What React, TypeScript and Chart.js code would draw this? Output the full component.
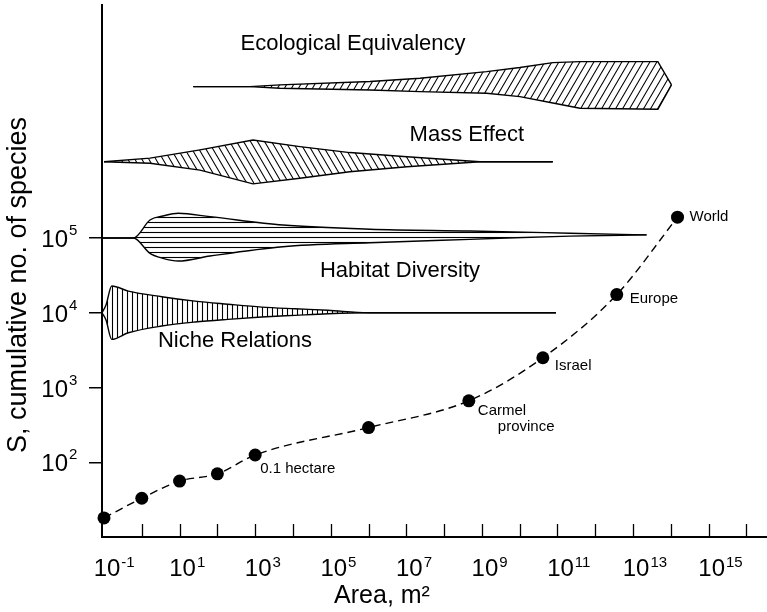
import React, { useEffect, useRef } from 'react';
import { Chart, registerables } from 'chart.js';

Chart.register(...registerables);

const FONT = '"Liberation Sans", Arial, Helvetica, sans-serif';

// ---- axis ranges ----
const X_MIN = 0.0885;
const X_MAX = 3.5e16;
const Y_MIN = 10;
const Y_MAX = 1.31e8;

// ---- ticks ----
const X_TICK_VALUES = [1e0, 1e1, 1e2, 1e3, 1e4, 1e5, 1e6, 1e7, 1e8, 1e9, 1e10, 1e11, 1e12, 1e13, 1e14, 1e15, 1e16];
const X_LABEL_VALUES = [1e-1, 1e1, 1e3, 1e5, 1e7, 1e9, 1e11, 1e13, 1e15];
const X_LABEL_EXPONENTS = ['-1', '1', '3', '5', '7', '9', '11', '13', '15'];
const Y_TICK_VALUES = [1e2, 1e3, 1e4, 1e5];
const Y_LABEL_EXPONENTS = ['2', '3', '4', '5'];

// ---- species–area curve ----
const AREA_M2 = [0.1, 1, 10, 100, 1000, 1e6, 4.5e8, 4.1e10, 3.7e12, 1.5e14];
const SPECIES = [18, 33, 56, 70, 125, 291, 664, 2500, 17500, 190000];
const NOTE_TEXT = ['0.1 hectare', 'Carmel', 'province', 'Israel', 'Europe', 'World'];
const NOTE_POINT = [4, 6, 6, 7, 8, 9];

// ---- Ecological Equivalency outline ----
const EE_X = [23, 728, 4530, 1.09e6, 2.29e7, 1.33e9, 1.01e10, 7.55e10, 3.92e11, 4.53e13, 1.04e14];
const EE_UPPER = [1.06e7, 1.06e7, 1.12e7, 1.24e7, 1.37e7, 1.68e7, 1.91e7, 2.22e7, 2.29e7, 2.29e7, 1.12e7];
const EE_LOWER = [1.06e7, 1.06e7, 1.01e7, 9.57e6, 9.1e6, 8.65e6, 7.8e6, 6.41e6, 5.45e6, 5.28e6, 1.12e7];

// ---- Mass Effect outline ----
const ME_X = [0.1, 1.65, 34.7, 875, 15300, 3.2e5, 1.04e7, 8.9e8, 7.5e10];
const ME_UPPER = [1.05e6, 1.17e6, 1.51e6, 2.05e6, 1.67e6, 1.39e6, 1.22e6, 1.05e6, 1.05e6];
const ME_LOWER = [1.05e6, 1.0e6, 8.1e5, 5.3e5, 6.3e5, 7.7e5, 9.0e5, 1.05e6, 1.05e6];

// ---- Habitat Diversity outline ----
const HD_X = [0.0885, 0.6, 1.65, 3.64, 9.25, 63.7, 5430, 1.09e6, 4.8e8, 2.13e11, 2.28e13];
const HD_UPPER = [1.0e5, 1.0e5, 1.74e5, 1.97e5, 2.14e5, 1.93e5, 1.49e5, 1.31e5, 1.24e5, 1.16e5, 1.1e5];
const HD_LOWER = [1.0e5, 1.0e5, 6.24e4, 5.35e4, 4.92e4, 5.74e4, 7.65e4, 8.65e4, 9.6e4, 1.06e5, 1.1e5];

// ---- Niche Relations outline ----
const NR_X = [0.0885, 0.113, 0.16, 0.44, 3.36, 25.5, 190, 1490, 11300, 84300, 9.8e5, 9.1e10];
const NR_UPPER = [1.0e4, 1.27e4, 2.28e4, 1.95e4, 1.64e4, 1.43e4, 1.3e4, 1.19e4, 1.13e4, 1.08e4, 1.0e4, 1.0e4];
const NR_LOWER = [1.0e4, 7980, 4400, 5400, 6640, 7510, 8160, 8760, 9230, 9700, 1.0e4, 1.0e4];

// ---- shape captions ----
const SHAPE_LABELS = ['Ecological Equivalency', 'Mass Effect', 'Habitat Diversity', 'Niche Relations'];

// layout (positions of captions and notes)
const SHAPE_LABEL_ANCHORS = [
  { x: 3.9e5, y: 4.0e7 },
  { x: 4.0e8, y: 2.43e6 },
  { x: 6.8e6, y: 3.66e4 },
  { x: 292, y: 4160 },
];
const NOTE_OFFSETS = [
  { dx: 5, dy: 14 },
  { dx: 9, dy: 10 },
  { dx: 29, dy: 26 },
  { dx: 12, dy: 8 },
  { dx: 13, dy: 4 },
  { dx: 12, dy: 0 },
];

function hatch(kind: string): CanvasPattern {
  const c = document.createElement('canvas');
  let w = 7;
  let h = 12;
  if (kind === 'h' || kind === 'v') {
    w = 5;
    h = 5;
  }
  c.width = w;
  c.height = h;
  const g = c.getContext('2d') as CanvasRenderingContext2D;
  g.strokeStyle = '#000';
  g.lineWidth = 1.1;
  g.beginPath();
  if (kind === 'fwd') {
    for (let k = -1; k <= 1; k++) {
      g.moveTo(k * w - w, 2 * h);
      g.lineTo(k * w + 2 * w, -h);
    }
  } else if (kind === 'back') {
    for (let k = -1; k <= 1; k++) {
      g.moveTo(k * w - w, -h);
      g.lineTo(k * w + 2 * w, 2 * h);
    }
  } else if (kind === 'h') {
    g.moveTo(0, 2.5);
    g.lineTo(w, 2.5);
  } else {
    g.moveTo(2.5, 0);
    g.lineTo(2.5, h);
  }
  g.stroke();
  return g.createPattern(c, 'repeat') as CanvasPattern;
}

function shape(xs: number[], up: number[], lo: number[], pattern: CanvasPattern, smooth: boolean) {
  const common: any = {
    borderColor: '#000',
    borderWidth: 1.4,
    pointRadius: 0,
    tension: smooth ? 0.4 : 0,
    cubicInterpolationMode: smooth ? 'monotone' : 'default',
  };
  return [
    { ...common, data: xs.map((x, i) => ({ x, y: up[i] })), fill: '+1', backgroundColor: pattern },
    { ...common, data: xs.map((x, i) => ({ x, y: lo[i] })), fill: false },
  ];
}

const annotationPlugin = {
  id: 'annotations',
  afterDraw(chart: any) {
    const { ctx, chartArea } = chart;
    const xs = chart.scales.x;
    const ys = chart.scales.y;
    ctx.save();
    ctx.fillStyle = '#000';
    ctx.strokeStyle = '#000';

    // inward x tick marks
    ctx.lineWidth = 1.3;
    for (const v of X_TICK_VALUES) {
      const px = Math.round(xs.getPixelForValue(v)) + 0.5;
      ctx.beginPath();
      ctx.moveTo(px, chartArea.bottom);
      ctx.lineTo(px, chartArea.bottom - 13);
      ctx.stroke();
    }

    // x tick labels with superscripts
    X_LABEL_VALUES.forEach((v, i) => {
      const px = xs.getPixelForValue(v) + 3;
      ctx.font = `24px ${FONT}`;
      ctx.textAlign = 'center';
      ctx.textBaseline = 'alphabetic';
      const wb = ctx.measureText('10').width;
      ctx.fillText('10', px, chartArea.bottom + 39);
      ctx.font = `15px ${FONT}`;
      ctx.textAlign = 'left';
      ctx.fillText(X_LABEL_EXPONENTS[i], px + wb / 2 + 1, chartArea.bottom + 30);
    });

    // y tick labels with superscripts
    Y_TICK_VALUES.forEach((v, i) => {
      const py = ys.getPixelForValue(v);
      ctx.font = `24px ${FONT}`;
      ctx.textAlign = 'right';
      ctx.textBaseline = 'alphabetic';
      ctx.fillText('10', chartArea.left - 34, py + 9);
      ctx.font = `15px ${FONT}`;
      ctx.textAlign = 'left';
      ctx.fillText(Y_LABEL_EXPONENTS[i], chartArea.left - 33, py - 3);
    });

    // axis titles
    ctx.font = `25px ${FONT}`;
    ctx.textAlign = 'center';
    ctx.textBaseline = 'alphabetic';
    ctx.fillText('Area, m²', 382, chartArea.bottom + 66);
    ctx.save();
    ctx.translate(19, 285);
    ctx.rotate(-Math.PI / 2);
    ctx.font = `27px ${FONT}`;
    ctx.textBaseline = 'middle';
    ctx.fillText('S, cumulative no. of species', 0, 0);
    ctx.restore();

    // shape captions
    ctx.font = `22px ${FONT}`;
    ctx.textAlign = 'center';
    ctx.textBaseline = 'middle';
    SHAPE_LABELS.forEach((t, i) => {
      const a = SHAPE_LABEL_ANCHORS[i];
      ctx.fillText(t, xs.getPixelForValue(a.x), ys.getPixelForValue(a.y));
    });

    // point notes
    ctx.font = `15px ${FONT}`;
    ctx.textAlign = 'left';
    ctx.textBaseline = 'middle';
    NOTE_TEXT.forEach((t, i) => {
      const k = NOTE_POINT[i];
      const px = xs.getPixelForValue(AREA_M2[k]);
      const py = ys.getPixelForValue(SPECIES[k]);
      ctx.fillText(t, px + NOTE_OFFSETS[i].dx, py + NOTE_OFFSETS[i].dy);
    });
    ctx.restore();
  },
};

export default function App() {
  const ref = useRef<HTMLCanvasElement | null>(null);

  useEffect(() => {
    const canvas = ref.current;
    if (!canvas) return;
    const datasets: any[] = [
      {
        data: AREA_M2.map((x, i) => ({ x, y: SPECIES[i] })),
        borderColor: '#000',
        borderWidth: 1.4,
        borderDash: [8, 5],
        pointRadius: 6.5,
        pointBackgroundColor: '#000',
        pointBorderColor: '#000',
        pointBorderWidth: 0,
        fill: false,
        cubicInterpolationMode: 'monotone',
        clip: false,
      },
      ...shape(EE_X, EE_UPPER, EE_LOWER, hatch('fwd'), false),
      ...shape(ME_X, ME_UPPER, ME_LOWER, hatch('back'), false),
      ...shape(HD_X, HD_UPPER, HD_LOWER, hatch('h'), true),
      ...shape(NR_X, NR_UPPER, NR_LOWER, hatch('v'), true),
    ];
    const chart = new Chart(canvas, {
      type: 'line',
      data: { datasets },
      options: {
        responsive: false,
        animation: false,
        devicePixelRatio: 1,
        layout: { autoPadding: false, padding: { top: 5, left: 0, right: 0, bottom: 0 } },
        plugins: { legend: { display: false }, tooltip: { enabled: false } },
        scales: {
          x: {
            type: 'logarithmic',
            position: 'bottom',
            min: X_MIN,
            max: X_MAX,
            grid: { display: false },
            ticks: { display: false },
            border: { display: true, color: '#000', width: 2 },
            afterBuildTicks: (s: any) => {
              s.ticks = X_TICK_VALUES.map((v) => ({ value: v }));
            },
            afterFit: (s: any) => {
              s.height = 75;
            },
          },
          y: {
            type: 'logarithmic',
            position: 'left',
            min: Y_MIN,
            max: Y_MAX,
            grid: { drawOnChartArea: false, drawTicks: true, tickLength: 13, color: '#000', lineWidth: 1.5 },
            ticks: { display: false },
            border: { display: true, color: '#000', width: 2 },
            afterBuildTicks: (s: any) => {
              s.ticks = Y_TICK_VALUES.map((v) => ({ value: v }));
            },
            afterFit: (s: any) => {
              s.width = 102;
            },
          },
        },
      } as any,
      plugins: [annotationPlugin],
    });
    return () => chart.destroy();
  }, []);

  return (
    <div style={{ position: 'fixed', left: 0, top: 0, width: 767, height: 612, background: '#fff' }}>
      <canvas ref={ref} width={767} height={612} style={{ display: 'block' }} />
    </div>
  );
}
